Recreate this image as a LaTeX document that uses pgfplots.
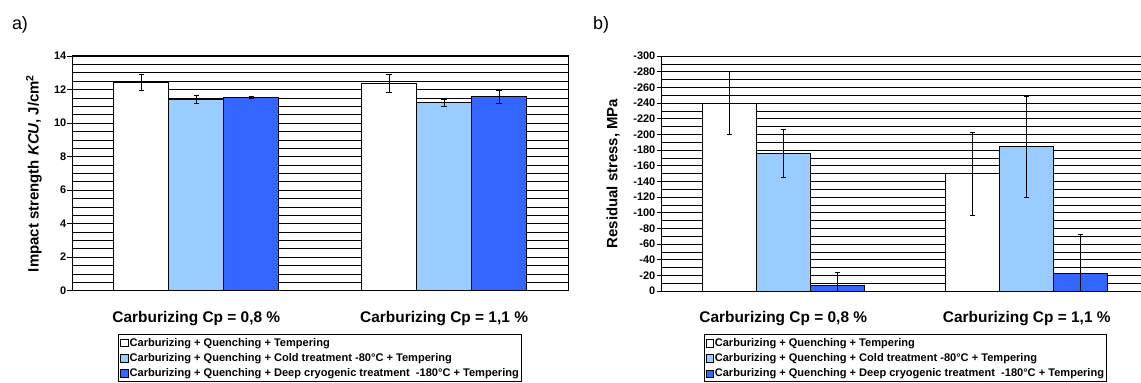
\documentclass[border=0pt]{standalone}
\usepackage{fontspec}
\setmainfont{Liberation Sans}
\usepackage{pgfplots}
\pgfplotsset{compat=1.18}
\definecolor{lblue}{RGB}{153,204,255}
\definecolor{dblue}{RGB}{51,102,255}
\pgfplotsset{
  common/.style={
    scale only axis,
    anchor=south west,
    xmin=-0.5, xmax=1.5,
    xtick={0,1},
    xticklabels={Carburizing Cp = 0{,}8 \%, Carburizing Cp = 1{,}1 \%},
    major x tick style={draw=none},
    extra x ticks={-0.5,0.5,1.5},
    extra x tick labels={},
    extra x tick style={major tick length=5bp, tick style={draw=black, line width=0.9bp}},
    tick align=outside,
    xtick pos=bottom, ytick pos=left,
    major tick length=5bp,
    minor tick length=0pt,
    ymajorgrids, yminorgrids,
    major grid style={black, line width=0.6bp},
    minor grid style={black, line width=0.6bp},
    axis line style={black, line width=1bp},
    tick style={black, line width=0.9bp},
    /pgf/number format/assume math mode=true,
    yticklabel style={font=\bfseries\fontsize{11}{12}\selectfont, inner sep=1bp},
    xticklabel style={font=\bfseries\fontsize{15.5}{18}\selectfont, anchor=center, yshift=-23bp},
    ybar=0pt,
    legend cell align=left,
    legend image code/.code={\draw[#1,draw=black,line width=0.7bp] (0bp,-3.6bp) rectangle (7.5bp,3.6bp);},
    legend style={anchor=north west, draw=black, line width=0.9bp,
      font=\bfseries\fontsize{11.1}{13}\selectfont,
      inner xsep=1.5bp, inner ysep=2bp, row sep=2.4bp,
      nodes={inner sep=1bp, text height=8.2bp, text depth=2.5bp}},
    error bars/y dir=both, error bars/y explicit,
    error bars/error bar style={black, line width=0.9bp},
    error bars/error mark options={black, line width=0.9bp, mark size=2.7bp, rotate=90},
  },
  barw/.style={draw=black, line width=0.9bp},
}
\begin{document}
\begin{tikzpicture}[x=1bp,y=1bp]
\useasboundingbox (0,0) rectangle (1141,382);
\clip (0,0) rectangle (1141,382);
\node[font=\fontsize{18}{21}\selectfont] at (20,357.5) {a)};
\node[font=\fontsize{18}{21}\selectfont] at (601,357.5) {b)};
\begin{axis}[common,
  at={(72.4bp,91.3bp)}, width=495.6bp, height=234.7bp,
  bar width=55bp,
  ymin=0, ymax=14, ytick={0,2,...,14}, minor y tick num=3,
  ylabel={Impact strength \textit{KCU}, J/cm\textsuperscript{2}},
  every axis y label/.style={at={(axis description cs:-0.0775,0.5)}, rotate=90, anchor=center,
    font=\bfseries\fontsize{15}{17}\selectfont},
  legend style={at={(axis description cs:0.093,-0.186)}},
]
\addplot[barw, fill=white] coordinates {(0,12.40) +- (0,0.48) (1,12.37) +- (0,0.55)};
\addplot[barw, fill=lblue] coordinates {(0,11.40) +- (0,0.25) (1,11.22) +- (0,0.20)};
\addplot[barw, fill=dblue] coordinates {(0,11.53) +- (0,0.07) (1,11.56) +- (0,0.37)};
\legend{Carburizing + Quenching + Tempering,
  Carburizing + Quenching + Cold treatment -80°C + Tempering,
  Carburizing + Quenching + Deep cryogenic treatment\ \ -180°C + Tempering}
\end{axis}
\begin{axis}[common,
  at={(661.5bp,91bp)}, width=487bp, height=235bp,
  bar width=54bp,
  y dir=reverse,
  ymin=-300, ymax=0, ytick={-300,-280,...,0}, minor y tick num=1,
  ylabel={Residual stress, MPa},
  every axis y label/.style={at={(axis description cs:-0.0996,0.5)}, rotate=90, anchor=center,
    font=\bfseries\fontsize{15}{17}\selectfont},
  legend style={at={(axis description cs:0.0866,-0.185)}},
]
\addplot[barw, fill=white] coordinates {(0,-240) +- (0,40) (1,-149.5) +- (0,53.5)};
\addplot[barw, fill=lblue] coordinates {(0,-176) +- (0,30.5) (1,-184) +- (0,64)};
\addplot[barw, fill=dblue] coordinates {(0,-7.5) +- (0,16.5) (1,-22.6) +- (0,49)};
\legend{Carburizing + Quenching + Tempering,
  Carburizing + Quenching + Cold treatment -80°C + Tempering,
  Carburizing + Quenching + Deep cryogenic treatment\ \ -180°C + Tempering}
\end{axis}
\end{tikzpicture}
\end{document}
